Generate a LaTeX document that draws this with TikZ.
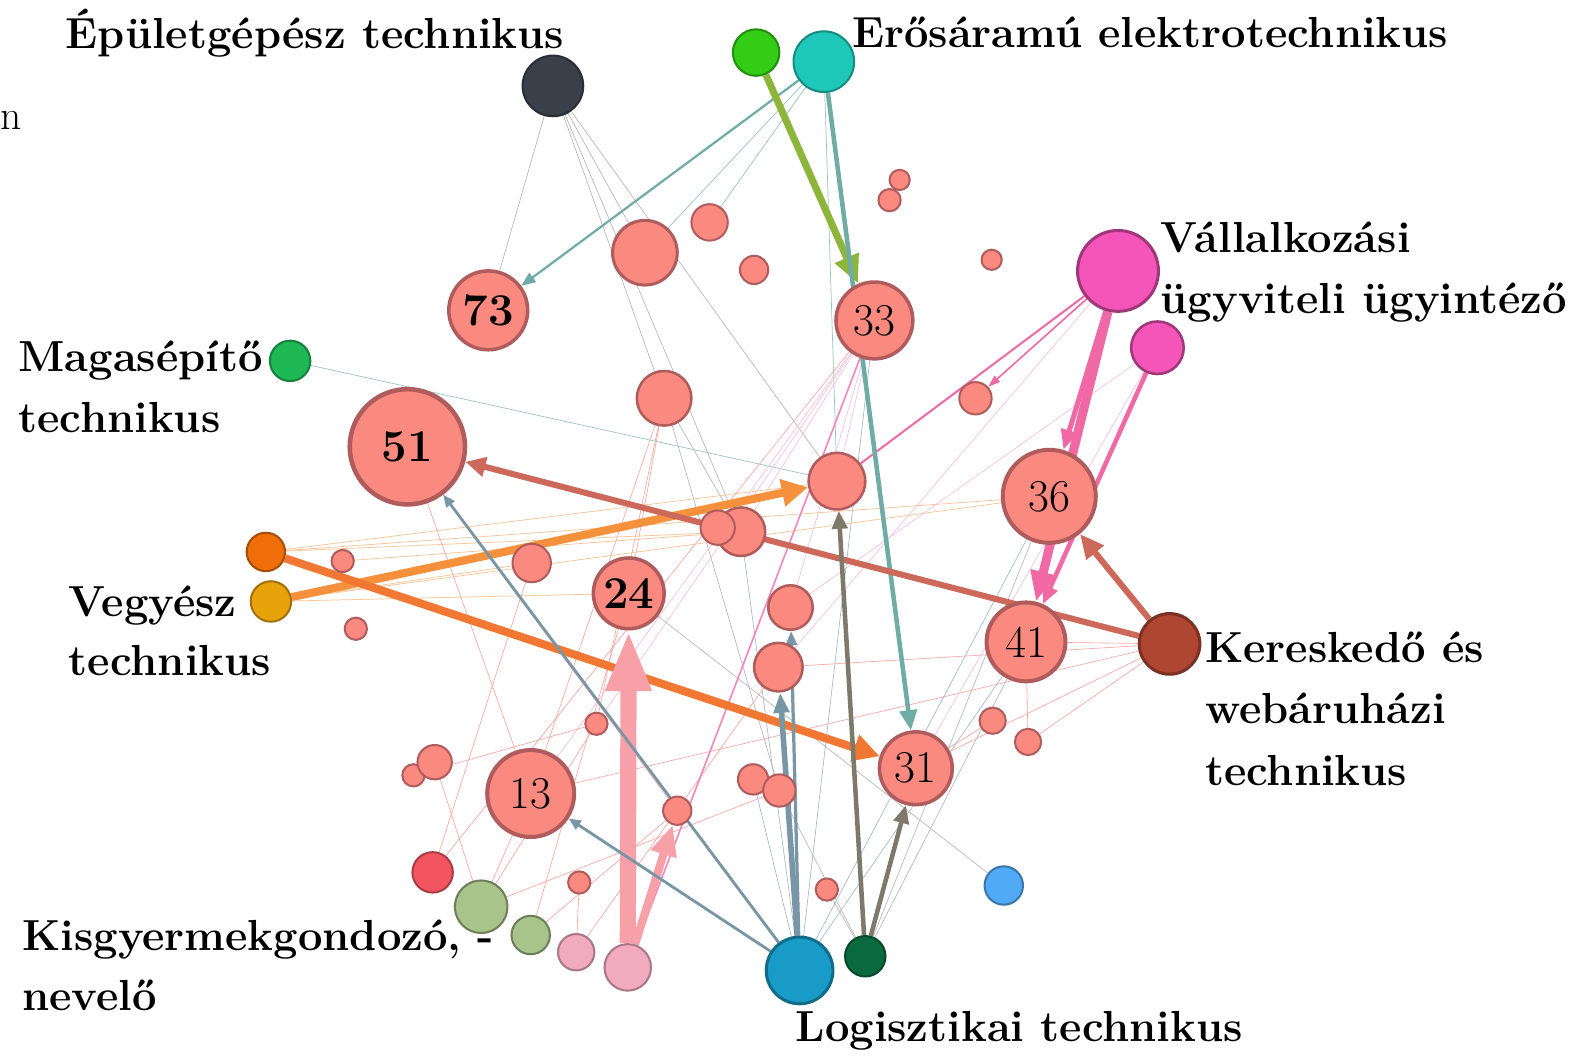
\documentclass[tikz,border=0pt]{standalone}
\usepackage{fontspec}
\usetikzlibrary{arrows.meta}
\pgfdeclarelayer{paper}
\pgfdeclarelayer{bg}
\pgfsetlayers{paper,bg,main}
\definecolor{salf}{RGB}{250,138,128}
\definecolor{sald}{RGB}{176,92,92}
\definecolor{cEp}{RGB}{58,64,74}
\definecolor{cGr}{RGB}{50,205,20}
\definecolor{cTq}{RGB}{30,200,185}
\definecolor{cMg}{RGB}{245,85,185}
\definecolor{cMa}{RGB}{30,185,85}
\definecolor{cOr}{RGB}{240,110,10}
\definecolor{cGo}{RGB}{232,162,10}
\definecolor{cKe}{RGB}{175,70,50}
\definecolor{cOl}{RGB}{168,196,138}
\definecolor{cPk}{RGB}{242,170,190}
\definecolor{cRd}{RGB}{242,85,95}
\definecolor{cLb}{RGB}{25,155,200}
\definecolor{cDg}{RGB}{10,105,62}
\definecolor{cSb}{RGB}{80,170,245}
\definecolor{aGreen}{RGB}{141,181,60}
\definecolor{aTeal}{RGB}{110,172,165}
\definecolor{aMag}{RGB}{240,105,165}
\definecolor{aOrA}{RGB}{245,145,60}
\definecolor{aOrB}{RGB}{240,120,50}
\definecolor{aKe}{RGB}{205,105,90}
\definecolor{aPink}{RGB}{248,160,168}
\definecolor{aBlue}{RGB}{120,150,165}
\definecolor{aDg}{RGB}{125,122,108}
\newcommand\labfont{\fontsize{43}{61}\selectfont\bfseries}
\newcommand\numfont{\fontsize{45}{46}\selectfont}
\tikzset{
  sal/.style={circle, draw=sald, fill=salf, line width=3.5pt, inner sep=0pt, minimum size=#1},
  sml/.style={circle, draw=sald, fill=salf, line width=2pt, inner sep=0pt, minimum size=#1},
  col/.style n args={3}{circle, draw=#2, fill=#1, line width=2pt, inner sep=0pt, minimum size=#3},
  lbl/.style={anchor=base west, inner sep=0pt, font=\labfont},
  thg/.style={draw=gray!60, line width=0.6pt},
  ths/.style={draw=salf!80!white, line width=0.6pt},
  thp/.style={draw=aMag!45, line width=0.6pt},
  tho/.style={draw=aOrA!55, line width=0.7pt},
  tht/.style={draw=aTeal!70, line width=0.7pt},
  thb/.style={draw=aBlue!70, line width=0.6pt},
}
\begin{document}
\begin{tikzpicture}[x=1pt,y=-1pt]
\useasboundingbox (0,0) rectangle (1568,1044);
\begin{pgfonlayer}{paper}
\fill[white] (0,0) rectangle (1568,1044);
\end{pgfonlayer}

% unlabeled salmon nodes
\node[sal=64pt, line width=3pt] (a1) at (638,250) {};
\node[sml=36pt] (a2) at (702,220) {};
\node[sml=28pt] (a3) at (746,267) {};
\node[sml=22pt] (a4) at (880,198) {};
\node[sml=20pt] (a5) at (890,178) {};
\node[sml=20pt] (a6) at (981,257) {};
\node[sal=54pt, line width=2.5pt] (a7) at (657,394) {};
\node[sml=32pt] (a8) at (965,394) {};
\node[sal=56pt, line width=2.5pt] (a9) at (828,476) {};
\node[sal=48pt, line width=2.5pt] (a11) at (733,526) {};
\node[sml=34pt] (a10) at (710,522) {};
\node[sml=38pt] (a12) at (526,557) {};
\node[sml=22pt] (a13) at (339,555) {};
\node[sml=22pt] (a14) at (352,622) {};
\node[sal=44pt, line width=2.5pt] (a15) at (782,601) {};
\node[sal=48pt, line width=2.5pt] (a16) at (770,660) {};
\node[sml=22pt] (a17) at (590,716) {};
\node[sml=22pt] (a19) at (409,767) {};
\node[sml=34pt] (a18) at (430,754) {};
\node[sml=30pt] (a20) at (745,771) {};
\node[sml=32pt] (a21) at (771,782) {};
\node[sml=28pt] (a22) at (670,802) {};
\node[sml=26pt] (a23) at (982,713) {};
\node[sml=26pt] (a24) at (1017,734) {};
\node[sml=22pt] (a25) at (573,873) {};
\node[sml=22pt] (a26) at (818,880) {};

% numbered nodes
\node[sal=78pt] (n73) at (483,307) {\numfont\bfseries 73};
\node[sal=76pt] (n33) at (865,317) {\numfont 33};
\node[sal=114pt, line width=4.5pt] (n51) at (403,442) {\numfont\bfseries 51};
\node[sal=92pt, line width=4pt] (n36) at (1038,491) {\numfont 36};
\node[sal=70pt] (n24) at (622,587) {\numfont\bfseries 24};
\node[sal=78pt, line width=4pt] (n41) at (1015,635) {\numfont 41};
\node[sal=72pt] (n31) at (906,760) {\numfont 31};
\node[sal=86pt, line width=4pt] (n13) at (525,785) {\numfont 13};

% coloured nodes
\node[col={cEp}{cEp!70!black}{60pt}] (ep) at (547,85) {};
\node[col={cGr}{cGr!70!black}{46pt}] (gr) at (748,52) {};
\node[col={cTq}{cTq!70!black}{60pt}] (tq) at (815,61) {};
\node[col={cMg}{cMg!65!black}{80pt}, line width=3pt] (mg1) at (1106,268) {};
\node[col={cMg}{cMg!65!black}{52pt}, line width=2.5pt] (mg2) at (1145,344) {};
\node[col={cMa}{cMa!70!black}{40pt}] (ma) at (287,357) {};
\node[col={cOr}{cOr!70!black}{38pt}] (or1) at (263,546) {};
\node[col={cGo}{cGo!70!black}{40pt}] (or2) at (268,595) {};
\node[col={cKe}{cKe!70!black}{60pt}, line width=3pt] (ke) at (1157,637) {};
\node[col={cRd}{cRd!70!black}{40pt}] (rd) at (428,863) {};
\node[col={cOl}{cOl!65!black}{52pt}] (ol1) at (476,897) {};
\node[col={cOl}{cOl!65!black}{38pt}] (ol2) at (525,925) {};
\node[col={cPk}{cPk!70!black}{36pt}] (pk1) at (570,942) {};
\node[col={cPk}{cPk!70!black}{46pt}] (pk2) at (621,957) {};
\node[col={cLb}{cLb!70!black}{66pt}, line width=3pt] (lb) at (791,960) {};
\node[col={cDg}{cDg!70!black}{40pt}] (dg) at (856,946) {};
\node[col={cSb}{cSb!70!black}{38pt}] (sb) at (993,876) {};

% labels
\node[lbl] (tEp) at (65,48) {Épületgépész technikus};
\node[anchor=base west, inner sep=0pt, font=\fontsize{41}{61}\selectfont] (tN) at (0,128) {n};
\node[lbl] (tEr) at (843,47) {Erősáramú elektrotechnikus};
\node[lbl] (tVa1) at (1148,250) {Vállalkozási};
\node[lbl] (tVa2) at (1148,310) {ügyviteli ügyintéző};
\node[lbl] (tMa1) at (18,368) {Magasépítő};
\node[lbl] (tMa2) at (18,428) {technikus};
\node[lbl] (tVe1) at (68,610) {Vegyész};
\node[lbl] (tVe2) at (68,668) {technikus};
\node[lbl] (tKe1) at (1192,655) {Kereskedő és};
\node[lbl] (tKe2) at (1192,716) {webáruházi};
\node[lbl] (tKe3) at (1192,777) {technikus};
\node[lbl] (tKi1) at (22,940) {Kisgyermekgondozó, -};
\node[lbl] (tKi2) at (22,1000) {nevelő};
\node[lbl] (tLo) at (787,1030) {Logisztikai technikus};

\begin{pgfonlayer}{bg}
% thin connectors
\draw[thg] (ep) -- (n73);
\draw[thg] (ep) -- (a7);
\draw[thg] (ep) -- (a9);
\draw[thg] (ep) -- (a11);
\draw[thg] (ep) -- (a1);
\draw[tht] (tq) -- (a1);
\draw[tht] (tq) -- (a2);
\draw[tht] (tq) -- (a9);
\draw[thg] (a7) -- (a11);
\draw[ths] (a7) -- (n24);
\draw[ths] (a7) -- (a17);
\draw[ths] (a7) -- (n13);
\draw[thg] (a7) -- (a21);
\draw[tht] (ma) -- (a9);
\draw[thp] (n33) -- (a9);
\draw[thp] (n33) -- (a11);
\draw[thp] (n33) -- (a15);
\draw[thp] (n33) -- (a17);
\draw[thp] (n33) -- (n13);
\draw[tho] (or1) -- (n36);
\draw[tho] (or1) -- (a11);
\draw[tho] (or1) -- (a9);
\draw[tho] (or2) -- (n36);
\draw[tho] (or2) -- (a12);
\draw[tho] (or2) -- (n24);
\draw[tho] (a13) -- (a11);
\draw[ths] (n51) -- (n13);
\draw[ths] (n51) -- (a22);
\draw[ths] (ke) -- (n41);
\draw[ths] (ke) -- (n13);
\draw[ths] (ke) -- (n31);
\draw[ths] (ke) -- (a16);
\draw[ths] (ke) -- (a24);
\draw[thp] (mg2) -- (a15);
\draw[thp] (mg2) -- (n31);
\draw[thp] (mg1) -- (a16);
\draw[thb] (lb) -- (n41);
\draw[thb] (lb) -- (n36);
\draw[thb] (lb) -- (n33);
\draw[thb] (lb) -- (a20);
\draw[thb] (lb) -- (a11);
\draw[thg] (dg) -- (n41);
\draw[thg] (dg) -- (n36);
\draw[thg] (dg) -- (a26);
\draw[thg] (dg) -- (a21);
\draw[thg] (sb) -- (n24);
\draw[ths] (ol1) -- (n13);
\draw[ths] (ol1) -- (a18);
\draw[ths] (ol1) -- (a17);
\draw[ths] (ol1) -- (a21);
\draw[ths] (ol2) -- (a22);
\draw[ths] (ol2) -- (n24);
\draw[ths] (pk1) -- (a25);
\draw[ths] (pk1) -- (a16);
\draw[ths] (rd) -- (a12);
\draw[ths] (rd) -- (n33);
\draw[ths] (a23) -- (n31);
\draw[ths] (a24) -- (n41);
\draw[ths] (a19) -- (a17);
% medium connectors
\draw[aMag, line width=2pt] (mg1) -- (a9);
\draw[aMag!80, line width=1.6pt] (pk2) -- (n33);
\draw[aTeal, line width=2.2pt, -{Triangle[length=14pt,width=11pt]}] (tq) -- (n73);
\draw[aMag, line width=1.6pt, -{Triangle[length=12pt,width=8pt]}] (mg1) -- (a8);
% thick arrows
\draw[aGreen, line width=7pt, -{Triangle[length=28pt,width=24pt]}] (gr) -- (n33);
\draw[aTeal, line width=4.5pt, -{Triangle[length=20pt,width=17pt]}] (tq) -- (n31);
\draw[aMag, line width=5pt, -{Triangle[length=20pt,width=16pt]}] (mg1) -- (n36);
\draw[aMag, line width=9pt, -{Triangle[length=30pt,width=24pt]}] (mg1) -- (n41);
\draw[aMag, line width=4.5pt, -{Triangle[length=18pt,width=15pt]}] (mg2) -- (n41);
\draw[aOrA, line width=8pt, -{Triangle[length=26pt,width=26pt]}] (or2) -- (a9);
\draw[aOrB, line width=8pt, -{Triangle[length=26pt,width=26pt]}] (or1) -- (n31);
\draw[aKe, line width=6pt, -{Triangle[length=20pt,width=19pt]}] (ke) -- (n51);
\draw[aKe, line width=6pt, -{Triangle[length=24pt,width=21pt]}] (ke) -- (n36);
\draw[aPink, line width=16pt, -{Triangle[length=60pt,width=42pt]}] (pk2) -- (n24);
\draw[aPink, line width=8pt, -{Triangle[length=30pt,width=25pt]}] (pk2) -- (a22);
\draw[aBlue, line width=2.8pt, -{Triangle[length=12pt,width=10pt]}] (lb) -- (n51);
\draw[aBlue, line width=2.8pt, -{Triangle[length=12pt,width=10pt]}] (lb) -- (n13);
\draw[aBlue, line width=5.5pt, -{Triangle[length=20pt,width=15pt]}] (lb) -- (a16);
\draw[aBlue, line width=3.2pt, -{Triangle[length=14pt,width=11pt]}] (lb) -- (a15);
\draw[aDg, line width=4.5pt, -{Triangle[length=18pt,width=15pt]}] (dg) -- (a9);
\draw[aDg, line width=4.5pt, -{Triangle[length=18pt,width=15pt]}] (dg) -- (n31);
\end{pgfonlayer}
\end{tikzpicture}
\end{document}
